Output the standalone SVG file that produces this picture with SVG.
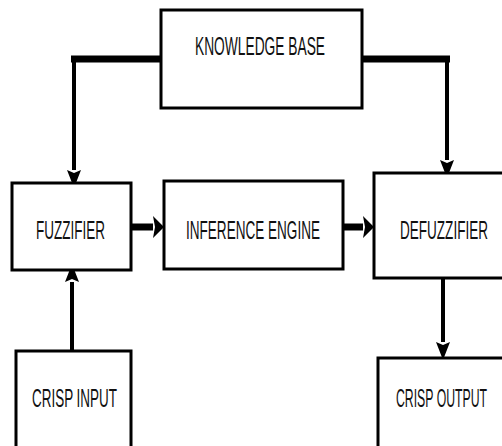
<svg xmlns="http://www.w3.org/2000/svg" width="502" height="446" viewBox="0 0 502 446">
<style>
.box{fill:#fff;stroke:#000;stroke-width:3}
.lbl{font-family:"Liberation Sans Narrow","Liberation Sans",Arial,sans-serif;font-size:25px;fill:#111;text-anchor:start}
.thin{stroke:#000;stroke-width:4;fill:none}
.thick{stroke:#000;stroke-width:7;fill:none}
</style>
<defs>
<marker id="hv" markerUnits="userSpaceOnUse" markerWidth="20" markerHeight="16" refX="0" refY="7" orient="auto" overflow="visible">
<path d="M0,0 L18,7 L0,14 L3,7 z" fill="#000"/>
</marker>
<marker id="hh" markerUnits="userSpaceOnUse" markerWidth="14" markerHeight="24" refX="0" refY="11" orient="auto" overflow="visible">
<path d="M0,0 L11,11 L0,22 L2,11 z" fill="#000"/>
</marker>
</defs>
<rect width="502" height="446" fill="#fff"/>
<g id="connectors">
<line class="thick" x1="71" y1="59" x2="161" y2="59"/>
<line class="thin" x1="74" y1="56" x2="74" y2="170" marker-end="url(#hv)"/>
<line class="thick" x1="362" y1="59" x2="450" y2="59"/>
<line class="thin" x1="447" y1="56" x2="447" y2="160" marker-end="url(#hv)"/>
<line class="thick" x1="131" y1="227" x2="153" y2="227" marker-end="url(#hh)"/>
<line class="thick" x1="343" y1="227" x2="363" y2="227" marker-end="url(#hh)"/>
<line class="thin" x1="72" y1="351" x2="72" y2="282" marker-end="url(#hv)"/>
<line class="thin" x1="443" y1="278" x2="443" y2="342" marker-end="url(#hv)"/>
</g>
<g id="knowledge-base">
<rect class="box" x="161" y="10" width="201" height="98"/>
<text class="lbl" x="195" y="55" textLength="130" lengthAdjust="spacingAndGlyphs">KNOWLEDGE BASE</text>
</g>
<g id="fuzzifier">
<rect class="box" x="12" y="183" width="119" height="87"/>
<text class="lbl" x="36" y="239" textLength="69" lengthAdjust="spacingAndGlyphs">FUZZIFIER</text>
</g>
<g id="inference-engine">
<rect class="box" x="164" y="181" width="179" height="88"/>
<text class="lbl" x="186" y="239" textLength="134" lengthAdjust="spacingAndGlyphs">INFERENCE ENGINE</text>
</g>
<g id="defuzzifier">
<rect class="box" x="374" y="173" width="130" height="105"/>
<text class="lbl" x="400" y="239" textLength="88" lengthAdjust="spacingAndGlyphs">DEFUZZIFIER</text>
</g>
<g id="crisp-input">
<rect class="box" x="16" y="351" width="115" height="97"/>
<text class="lbl" x="32" y="407" textLength="85" lengthAdjust="spacingAndGlyphs">CRISP INPUT</text>
</g>
<g id="crisp-output">
<rect class="box" x="378" y="358" width="126" height="90"/>
<text class="lbl" x="396" y="407" textLength="91" lengthAdjust="spacingAndGlyphs">CRISP OUTPUT</text>
</g>
</svg>
